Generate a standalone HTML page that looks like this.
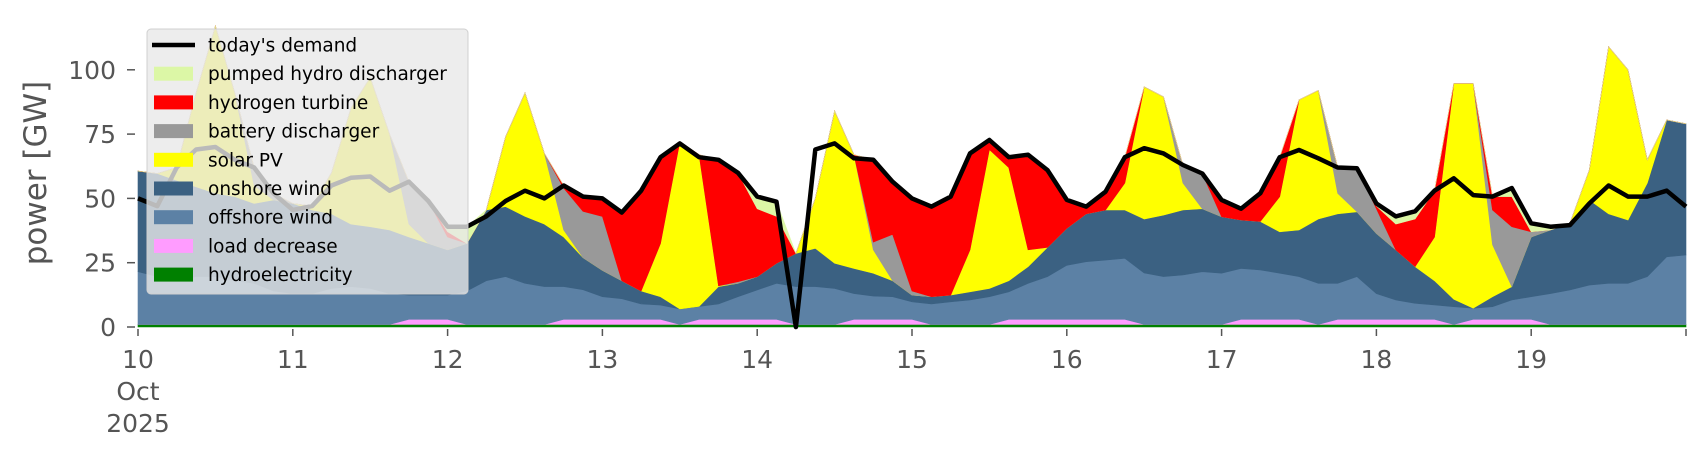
<!DOCTYPE html>
<html><head><meta charset="utf-8">
<style>
html,body{margin:0;padding:0;background:#fff;}
svg{display:block;font-family:"DejaVu Sans","Liberation Sans",sans-serif;}
</style></head>
<body>
<svg id="chart" width="1706" height="460" viewBox="0 0 1706 460" xmlns="http://www.w3.org/2000/svg">
<g id="areas"></g>
<g id="axes"></g>
<text transform="translate(46,173) rotate(-90)" text-anchor="middle" font-size="31" fill="#555">power [GW]</text>
<g id="legend"></g>
</svg>
<script>
const dayLabels = ["10","11","12","13","14","15","16","17","18","19"];
const yTicks = [0,25,50,75,100];
const seriesNames = ["hydroelectricity","load decrease","offshore wind","onshore wind","solar PV","battery discharger","hydrogen turbine","pumped hydro discharger"];
const hydro = Array(81).fill(1);
const loadDecrease = [0,0,0,0,0,0,0,0, 0,0,0,0,0,0,2,2, 2,0,0,0,0,0,2,2, 2,2,2,2,0,2,2,2, 2,2,0,0,0,2,2,2, 2,0,0,0,0,2,2,2, 2,2,2,2,0,0,0,0, 0,2,2,2,2,0,2,2, 2,2,2,2,0,2,2,2, 2,0,0,0,0,0,0,0, 0];
const offshore = [20.5,18.6,17,18.6,18.6,17,16,13, 12,12,14,14.7,14,12,9.4,9.4, 9.4,13,17,18.6,16,14.7,12.7,11.5, 8.8,8,6,5.5,6,5,6,8.8, 11.4,14,14.7,14.7,14,10,9,8.8, 6.8,8,8.8,9.5,10.8,10.7,14,16.6, 21,22.4,23,23.7,20,18.6,19.2,20.5, 19.9,19.8,19.2,17.9,16.6,16,14,16.6, 10,7.5,6.2,5.6,6.9,4.3,4.9,7.5, 8.8,12,13.4,15.3,16,16,18.6,26.3, 27];
const onshore = [39.1,40.1,39,34.9,32.4,32.7,31,35.4, 35,32.5,29,24.3,24,24.7,22.6,20.1, 17.6,18.5,27.5,27.2,26,24.3,19.3,12.5, 10.2,7,5,3.3,0,0,6.7,5.2, 5.2,7.8,12.9,14.9,9.8,9.8,8.9,6.2, 2.6,2.8,2.6,3.2,3.2,4.3,6.5,11.4, 14.4,18.6,19.5,18.8,21,23.9,25.3,24.5, 22,18.8,18.8,16.1,18.1,25,27,25.2, 23.4,19.5,14.3,9.4,2.9,0,3.9,5.2, 23.2,24.7,25.9,33.1,27,24.6,36.4,53.2, 51];
const solar = [0,0,5,36.5,65,40.3,7,0, 0,1.5,16,45,58,37.3,5,0, 0,0,0,27.2,48,27.5,2.7,0, 0,0,0,20.7,65,59,0.3,0, 0,0,0,19.4,59.2,44.2,9.1,0, 0,0,0,16.3,54,44,6.5,0, 0,0,0,10.5,51.4,46,10.5,0, 0,0,0,13.7,50.6,50,8,0, 0,0,0,17,83.9,87.4,20.2,0, 0,0,0,11.6,65,58.4,9,0, 0];
const battery = [0,0,0,0,0,0,7,2.6, 0,0,0,0,0,0,16.5,16.5, 5,0,0,0,0,0,16.3,18, 21,0,0,0,0,0,0,0.6, 0,0,0,0,0,0,3,18, 1.6,0,0,0,0,0,0,0, 0,0,0,0,0,0,7,13.7, 0,0,0,0,0,0,10,16.9, 9.6,0,0,0,0,0,13.5,23.3, 2,0,0,0,0,0,0,0, 0];
const hydrogen = [0,0,0,0,0,0,0,0, 0,0,0,0,0,0,0,0, 2,0,0,0,0,0,1,5.7, 7,26,39,33.5,0,0,49,42.4, 26.4,18.2,0,0,0,0,32,20.5, 36,35,38.3,37.5,3.7,4,37,30, 11,2.8,7.1,10,0,0,0,0, 6.5,4.4,11,15.3,0,0,0,0, 1,10,18.5,18,0,0,5.2,11.7, 0,0,0,0,0,0,0,0, 0];
const pumpedHydro = [0,0,0,0,0,0,0,0, 0,0,0,0,0,0,0,0, 2,6.5,0,0,0,0,0,0, 0,1,0,0,0,0,0,0, 4.7,5.7,0,0,0,0,0,0, 0,0,0,0,0,0,0,0, 0,0,0,0,0,0,0,0, 0,0,0,0,0,0,0,0, 1,3,3,0,0,0,0,3.3, 3.3,1.3,0,0,0,0,0,0, 0];
const demand = [50,47,62,69,70,65,62,52, 45.5,47,55,58,58.5,53,56.5,49, 39,39,43,49,53,50,55,50.7, 50,44.5,53,66,71.4,66,65,60, 50.7,48.7,0,69,71.4,65.6,65,56.5, 50,46.8,50.7,67.5,72.7,66,67,61, 49.4,46.8,52.6,66,69.5,67.5,63,59.7, 49.4,46,52,66,68.8,65.6,62,61.7, 48,43,45,53,57.8,51.3,50.7,54, 40.3,39,39.6,48,55,50.7,50.7,53, 46.8];

const X0=138, X1=1686, Y0=327, PXGW=2.572, NPTS=81;
const xs = i => X0 + (X1-X0)*i/(NPTS-1);
const ys = v => Y0 - v*PXGW;
const NS="http://www.w3.org/2000/svg";
function mk(tag, attrs, parent){const e=document.createElementNS(NS,tag);for(const k in attrs)e.setAttribute(k,attrs[k]);parent.appendChild(e);return e;}

const layers=[hydro,loadDecrease,offshore,onshore,solar,battery,hydrogen,pumpedHydro];
const colors=["#008000","#ff9cff","#5c81a5","#3b6182","#ffff00","#999999","#ff0000","#dcf7a6"];
const layerNames=["hydroelectricity-area","load-decrease-area","offshore-wind-area","onshore-wind-area","solar-pv-area","battery-discharger-area","hydrogen-turbine-area","pumped-hydro-area"];
const areas=document.getElementById('areas');
let base=Array(NPTS).fill(0);
layers.forEach((arr,li)=>{
  const top=base.map((b,i)=>b+arr[i]);
  let d="M"+xs(0)+","+ys(top[0]);
  for(let i=1;i<NPTS;i++) d+="L"+xs(i).toFixed(1)+","+ys(top[i]).toFixed(1);
  for(let i=NPTS-1;i>=0;i--) d+="L"+xs(i).toFixed(1)+","+ys(base[i]).toFixed(1);
  d+="Z";
  const p=mk('path',{d:d,fill:colors[li],stroke:colors[li],'stroke-width':0.6},areas);
  
  
  base=top;
});
let dl="";
demand.forEach((v,i)=>{dl+=(i?"L":"M")+xs(i).toFixed(1)+","+ys(v).toFixed(1);});
const dline=mk('path',{d:dl,fill:"none",stroke:"#000",'stroke-width':4.5,'stroke-linejoin':'round'},areas);



const axes=document.getElementById('axes');
yTicks.forEach(v=>{
  const t=mk('line',{x1:127,x2:135,y1:ys(v),y2:ys(v),stroke:"#555",'stroke-width':1.5},axes);
  
  
  const l=mk('text',{x:116,y:ys(v)+9,'text-anchor':'end','font-size':25,fill:"#555"},axes);
  l.textContent=v;
  
  
});
const dayW=(X1-X0)/dayLabels.length;
for(let k=0;k<=dayLabels.length;k++){
  const x=X0+k*dayW;
  const t=mk('line',{x1:x,x2:x,y1:329,y2:336,stroke:"#555",'stroke-width':1.5},axes);
  
  
  if(k<dayLabels.length){
    const l=mk('text',{x:x,y:368,'text-anchor':'middle','font-size':25,fill:"#555"},axes);
    l.textContent=dayLabels[k];
    
    
  }
}
const m=mk('text',{x:X0,y:400,'text-anchor':'middle','font-size':25,fill:"#555"},axes);
m.textContent="Oct";


const yr=mk('text',{x:X0,y:432,'text-anchor':'middle','font-size':25,fill:"#555"},axes);
yr.textContent="2025";



const lg=document.getElementById('legend');
const box=mk('rect',{x:147,y:29,width:321,height:265,rx:4,fill:"rgba(232,232,232,0.8)",stroke:"#d0d0d0",'stroke-width':1},lg);


const legLabels=["today's demand","pumped hydro discharger","hydrogen turbine","battery discharger","solar PV","onshore wind","offshore wind","load decrease","hydroelectricity"];
const legColors=["#000","#dcf7a6","#ff0000","#999999","#ffff00","#3b6182","#5c81a5","#ff9cff","#008000"];
legLabels.forEach((s,i)=>{
  const y=45+i*28.7;
  if(i===0){
    const ln=mk('line',{x1:152,x2:195,y1:y,y2:y,stroke:"#000",'stroke-width':4.5},lg);
    
    
  } else {
    const r=mk('rect',{x:154,y:y-7,width:39,height:14,fill:legColors[i]},lg);
    
    
  }
  const t=mk('text',{x:208,y:y+6.5,'font-size':18.5,fill:"#000"},lg);
  t.textContent=s;
  
  
});
</script>
</body></html>
